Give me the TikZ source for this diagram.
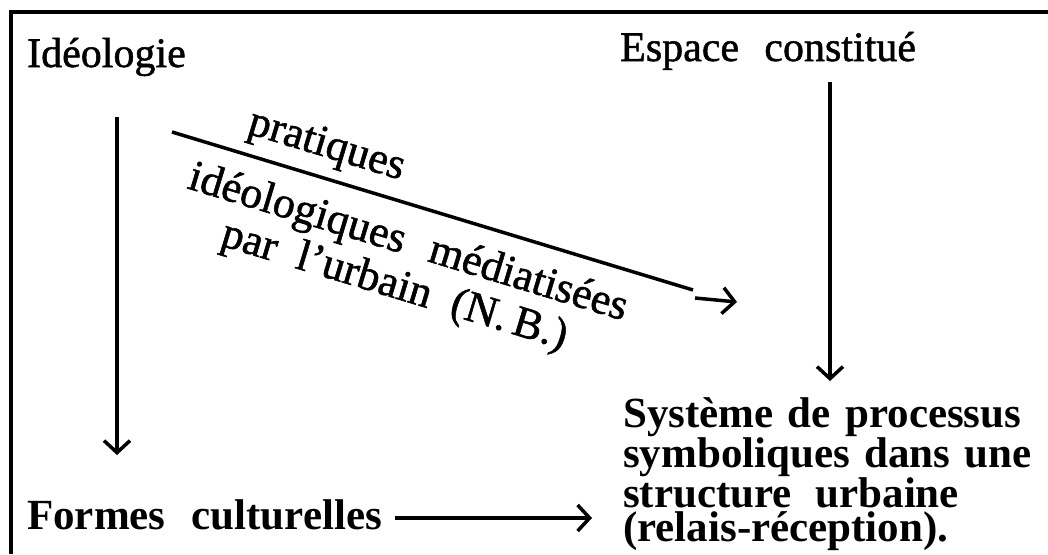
\documentclass[tikz,border=0pt]{standalone}
\usepackage{fontspec}
\setmainfont{Liberation Serif}
\newfontfamily\heavyrm{Liberation Serif}[FakeBold=1.2]
\usetikzlibrary{arrows.meta}
\begin{document}
\begin{tikzpicture}[x=1pt,y=-1pt,
  lbl/.style={inner sep=0pt, font=\heavyrm\fontsize{42}{44}\selectfont},
  dlbl/.style={inner sep=0pt, anchor=base west, rotate=-16.87, font=\heavyrm\fontsize{44}{44}\selectfont},
  blbl/.style={inner sep=0pt, font=\fontsize{43}{34}\selectfont\bfseries},
  conn/.style={line width=3.5pt},
  arr/.style={line width=3.5pt, -{Straight Barb[length=12pt,width=26pt,line width=3.5pt]}},
  framel/.style={line width=3.5pt}]
\useasboundingbox (0,0) rectangle (1048,554);
\draw[framel] (11,554) -- (11,12) -- (1048,12);
% texts
\node[lbl, anchor=base west] (ideo) at (27,67) {Idéologie};
\node[lbl, anchor=base west] (esp) at (620,61) {Espace\hspace{0.6em}constitué};
\node[blbl, anchor=base west] (form) at (27,529) {Formes\hspace{0.6em}culturelles};
\node[blbl, anchor=base west, text width=404pt, align=left] (sys) at (623,427)
  {\makebox[404pt][s]{Système de processus}\\
   \makebox[404pt][s]{symboliques dans une}\\
   structure\hspace{0.55em}urbaine\\
   (relais-réception).};
\node[dlbl] (prat) at (246,133) {pratiques};
\node[dlbl] (idm) at (186,188) {idéologiques\hspace{0.6em}médiatisées};
\node[dlbl] (par) at (219,245) {par\hspace{0.5em}l’urbain\hspace{0.5em}(N.\,B.)};
% connectors
\coordinate (ia) at (117,117);
\coordinate (ib) at (117,455);
\draw[arr] (ia) -- (ib);
\coordinate (ea) at (830,82);
\coordinate (eb) at (830,381);
\draw[arr] (ea) -- (eb);
\coordinate (fa) at (395,518);
\coordinate (fb) at (592,518);
\draw[arr] (fa) -- (fb);
\coordinate (d1) at (172,132);
\coordinate (d2) at (693,290);
\draw[conn] (d1) -- (d2);
\coordinate (s1) at (695,298);
\coordinate (s2) at (737,302);
\draw[arr] (s1) -- (s2);
\end{tikzpicture}
\end{document}
